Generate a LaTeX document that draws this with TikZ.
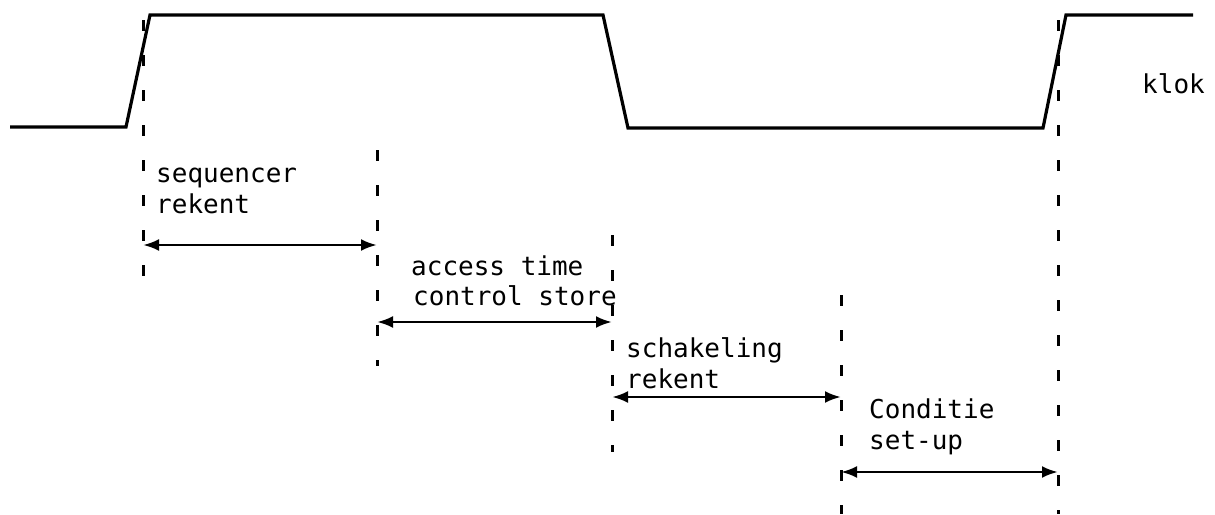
\documentclass[tikz,border=0pt]{standalone}
\usepackage{fontspec}
\newfontfamily\monofnt{DejaVu Sans Mono}
\usetikzlibrary{arrows.meta}
\tikzset{
  clockline/.style={line width=3.2pt, line join=miter},
  marker/.style={line width=3pt, dash pattern=on 11pt off 24pt},
  span/.style={line width=2.8pt, {Latex[length=16pt,width=12pt]}-{Latex[length=16pt,width=12pt]}},
  lbl/.style={anchor=base west, inner sep=0pt, font=\monofnt\fontsize{26}{31}\selectfont}
}
\begin{document}
\begin{tikzpicture}[x=1pt,y=-1pt]
\useasboundingbox (0,0) rectangle (1215,514);
% clock signal
\draw[clockline] (10,127) -- (126,127) -- (150,15) -- (603,15) -- (628,128) -- (1043,128) -- (1066,15) -- (1193,15);
\node[lbl] (klok) at (1142,93) {klok};
% marker coordinates
\coordinate (m1t) at (143,20);  \coordinate (m1b) at (143,282);
\coordinate (m2t) at (377,150); \coordinate (m2b) at (377,366);
\coordinate (m3t) at (612,235); \coordinate (m3b) at (612,452);
\coordinate (m4t) at (841,295); \coordinate (m4b) at (841,514);
\coordinate (m5t) at (1058,20); \coordinate (m5b) at (1058,514);
\draw[marker] (m1t) -- (m1b);
\draw[marker] (m2t) -- (m2b);
\draw[marker] (m3t) -- (m3b);
\draw[marker] (m4t) -- (m4b);
\draw[marker] (m5t) -- (m5b);
% spans
\coordinate (a1l) at (143,245); \coordinate (a1r) at (377,245);
\coordinate (a2l) at (377,322); \coordinate (a2r) at (612,322);
\coordinate (a3l) at (612,397); \coordinate (a3r) at (841,397);
\coordinate (a4l) at (841,472); \coordinate (a4r) at (1058,472);
\draw[span] (a1l) -- (a1r);
\draw[span] (a2l) -- (a2r);
\draw[span] (a3l) -- (a3r);
\draw[span] (a4l) -- (a4r);
% labels
\node[lbl] (s1a) at (156,182) {sequencer};
\node[lbl] (s1b) at (156,213) {rekent};
\node[lbl] (s2a) at (411,275) {access time};
\node[lbl] (s2b) at (413,305) {control store};
\node[lbl] (s3a) at (626,357) {schakeling};
\node[lbl] (s3b) at (626,388) {rekent};
\node[lbl] (s4a) at (869,418) {Conditie};
\node[lbl] (s4b) at (869,449) {set-up};
\end{tikzpicture}
\end{document}
